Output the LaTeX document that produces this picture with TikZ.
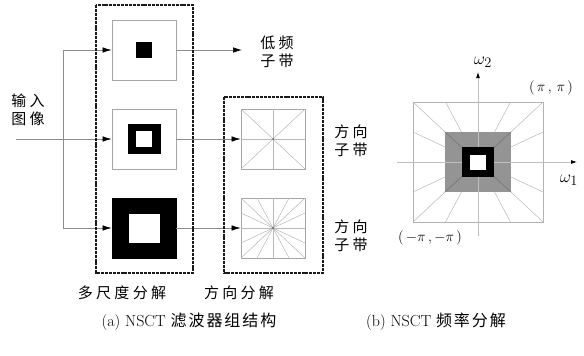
\documentclass[tikz,border=0pt]{standalone}
\usepackage{fontspec}
\newfontfamily\cjk[LetterSpace=22]{Noto Sans CJK SC}
\newfontfamily\cjkcap[LetterSpace=12]{Noto Sans CJK SC}
\usetikzlibrary{arrows.meta,calc}

\begin{document}
\begin{tikzpicture}[x=1pt,y=-1pt,
  band/.style={draw=black!35, line width=0.8pt, fill=white, minimum width=64pt, minimum height=60pt, inner sep=0pt},
  blk/.style={fill=black, inner sep=0pt},
  hole/.style={fill=white, inner sep=0pt},
  dashbox/.style={draw=black!90, line width=2.2pt, dash pattern=on 3pt off 0.9pt},
  link/.style={draw=black!45, line width=0.7pt},
  flow/.style={link, -{Latex[color=black,length=9pt,width=5.5pt]}},
  ray/.style={draw=black!28, line width=0.5pt},
  axis/.style={draw=black!25, line width=0.8pt, -{Latex[color=black,length=6pt,width=4pt]}},
  lbl/.style={font=\fontsize{15}{18}\selectfont\cjk, align=center, inner sep=0pt},
  captxt/.style={font=\fontsize{16}{18}\selectfont, inner sep=0pt}]
\useasboundingbox (0,0) rectangle (584,356);

% --- (a) filter bank: pyramid levels
\node[band] (lp1) at (144,50) {};
\node[blk, minimum size=16pt] (core1) at (lp1) {};
\node[band] (lp2) at (144,139) {};
\node[blk, minimum width=33pt, minimum height=30pt] (ring2) at (lp2) {};
\node[hole, minimum size=16pt] (hole2) at (lp2) {};
\node[band, fill=black, draw=black] (lp3) at (144,228) {};
\node[hole, minimum width=31pt, minimum height=29pt] (hole3) at (lp3) {};

% directional filter banks
\node[band] (dir1) at (273,139) {};
\foreach \a/\b in {1/1,1/-1,1/0,0/1}
  \draw[ray] ($(dir1.center)+(32*\a,30*\b)$) -- ($(dir1.center)-(32*\a,30*\b)$);
\fill[black!60] (dir1.center) circle (1pt);
\node[band] (dir2) at (273,228) {};
\foreach \a/\b in {1/1,1/-1,1/0,0/1,0.5/1,-0.5/1,1/0.5,1/-0.5}
  \draw[ray] ($(dir2.center)+(32*\a,30*\b)$) -- ($(dir2.center)-(32*\a,30*\b)$);
\fill[black!60] (dir2.center) circle (1.2pt);

% signal flow
\coordinate (src) at (16,139);
\coordinate (fork) at (63,139);
\coordinate (lowout) at (242,50);
\draw[flow] (src) -- (lp2.west);
\draw[link] (fork |- lp1.west) -- (fork |- lp3.west);
\draw[flow] (fork |- lp1.west) -- (lp1.west);
\draw[flow] (fork |- lp3.west) -- (lp3.west);
\draw[flow] (lp1.east) -- (lowout);
\draw[flow] (lp2.east) -- (dir1.west);
\draw[flow] (lp3.east) -- (dir2.west);

\draw[dashbox] (96,5) rectangle (193,273);
\draw[dashbox] (224,97) rectangle (323,273);

\node[lbl] (inlbl) at (28,110) {输入\\图像};
\node[lbl] (lowlbl) at (277,52) {低频\\子带};
\node[lbl] (sub1) at (351,141) {方向\\子带};
\node[lbl] (sub2) at (351,236) {方向\\子带};
\node[lbl] (mslbl) at (122,293) {多尺度分解};
\node[lbl] (dirlbl) at (239,293) {方向分解};

% --- (b) frequency tiling
\coordinate (F) at (478,162);
\node[draw=black!30, line width=0.7pt, minimum width=130pt, minimum height=120pt, inner sep=0pt] (outer) at (F) {};
\foreach \a/\b in {1/1,1/-1,-1/1,-1/-1,0.5/1,-0.5/1,0.5/-1,-0.5/-1,1/0.5,1/-0.5,-1/0.5,-1/-0.5}
  \draw[ray] ($(F)+(33*\a,30*\b)$) -- ($(F)+(65*\a,60*\b)$);
\node[fill=black!42, minimum width=66pt, minimum height=60pt, inner sep=0pt] (mid) at (F) {};
\draw[black!55, line width=0.5pt] (mid.north west) -- (mid.south east)
  (mid.north east) -- (mid.south west);
\coordinate (h0) at (397,162);
\coordinate (h1) at (577,162);
\coordinate (v0) at (478,236);
\coordinate (v1) at (478,72);
\draw[axis] (h0) -- (h1);
\draw[axis] (v0) -- (v1);
\node[blk, minimum width=32pt, minimum height=30pt] (inner) at (F) {};
\node[hole, minimum width=16pt, minimum height=15pt] (dc) at (F) {};

\node[font=\fontsize{19}{19}\selectfont] (om2) at (483,62) {$\omega_2$};
\node[font=\fontsize{19}{19}\selectfont] (om1) at (569,180) {$\omega_1$};
\node[captxt, font=\fontsize{14}{16}\selectfont] (pp) at (551,88) {$(\,\pi\,,\,\pi\,)$};
\node[captxt, font=\fontsize{14}{16}\selectfont] (mm) at (430,238) {$(\,-\pi\,,-\pi\,)$};

% captions
\node[captxt] (capa) at (189,322) {(a)\ NSCT\ {\cjkcap 滤波器组结构}};
\node[captxt] (capb) at (436,322) {(b)\ NSCT\ {\cjkcap 频率分解}};
\end{tikzpicture}
\end{document}
